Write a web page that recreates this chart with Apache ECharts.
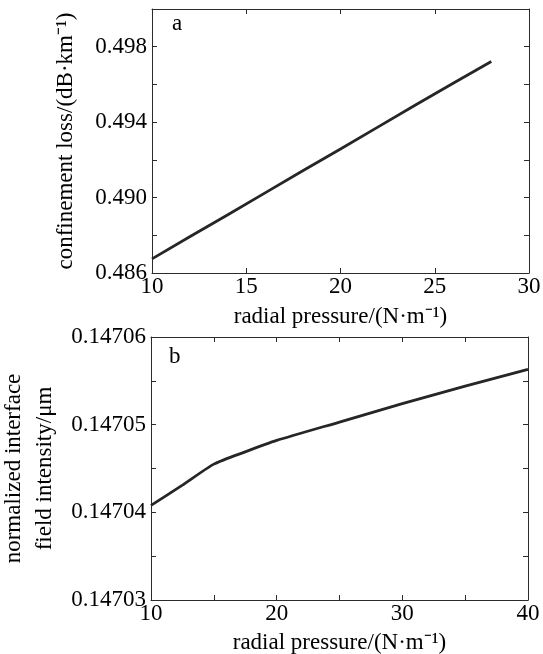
<!DOCTYPE html>
<html>
<head>
<meta charset="utf-8">
<script src="https://cdn.jsdelivr.net/npm/echarts@6/dist/echarts.min.js"></script>
<style>
  html, body { margin: 0; padding: 0; background: #fff; }
  #chart { width: 543px; height: 654px; }
</style>
</head>
<body>
<div id="chart"></div>
<script>
// panel a: confinement loss vs radial pressure
var pressureA = [10, 12, 14, 16, 18, 20, 22, 24, 26, 28];
var lossA = [0.48675, 0.48792, 0.48908, 0.49025, 0.49142, 0.49258, 0.49375, 0.49492, 0.49608, 0.49722];

// panel b: normalized interface field intensity vs radial pressure
var pressureB = [10, 12.5, 15, 17.5, 20, 25, 30, 35, 40];
var intensityB = [0.1470408, 0.1470431, 0.1470455, 0.1470469, 0.1470482, 0.1470503, 0.1470524, 0.1470544, 0.1470563];

var FONT = '"Liberation Serif", "Times New Roman", serif';
var FS = 23;
var INK = '#000';
var FRAME = '#2b2b2b';

function pairs(xs, ys) {
  return xs.map(function(x, i) { return [x, ys[i]]; });
}

function frameAxis(extra) {
  var ax = {
    axisLine: { show: true, lineStyle: { color: FRAME, width: 1 } },
    axisTick: { show: true, inside: true, length: 5, lineStyle: { color: FRAME } },
    splitLine: { show: false },
    axisLabel: { show: false }
  };
  Object.keys(extra).forEach(function(k) { ax[k] = extra[k]; });
  return ax;
}

var labelStyle = { color: INK, fontFamily: FONT, fontSize: FS };
var nameStyle = { color: INK, fontFamily: FONT, fontSize: FS };

var chart = echarts.init(document.getElementById('chart'), null, { renderer: 'canvas' });

chart.setOption({
  backgroundColor: '#fff',
  animation: false,
  grid: [
    { left: 152, top: 9, right: 14, bottom: 381, outerBoundsMode: 'none', containLabel: false },
    { left: 151, top: 337, right: 15, bottom: 54, outerBoundsMode: 'none', containLabel: false }
  ],
  xAxis: [
    frameAxis({
      type: 'value', gridIndex: 0, position: 'bottom', min: 10, max: 30, interval: 5,
      axisLabel: Object.assign({ show: true, margin: 2 }, labelStyle),
      name: 'radial pressure/(N·m⁻¹)', nameLocation: 'middle', nameGap: 32,
      nameTextStyle: nameStyle
    }),
    frameAxis({ type: 'value', gridIndex: 0, position: 'top', min: 10, max: 30, interval: 5 }),
    frameAxis({
      type: 'value', gridIndex: 1, position: 'bottom', min: 10, max: 40, interval: 5,
      axisLabel: Object.assign({
        show: true, margin: 2,
        formatter: function(v) { return v % 10 === 0 ? String(v) : ''; }
      }, labelStyle),
      name: 'radial pressure/(N·m⁻¹)', nameLocation: 'middle', nameGap: 31,
      nameTextStyle: nameStyle
    }),
    frameAxis({ type: 'value', gridIndex: 1, position: 'top', min: 10, max: 40, interval: 5 })
  ],
  yAxis: [
    frameAxis({
      type: 'value', gridIndex: 0, position: 'left', min: 0.486, max: 0.500, interval: 0.002,
      axisLabel: Object.assign({
        show: true, margin: 5,
        formatter: function(v) {
          var k = Math.round(v * 1000);
          return (k - 486) % 4 === 0 && k < 500 ? (k / 1000).toFixed(3) : '';
        }
      }, labelStyle),
      name: 'confinement loss/(dB·km⁻¹)', nameLocation: 'middle', nameGap: 75,
      nameTextStyle: nameStyle
    }),
    frameAxis({ type: 'value', gridIndex: 0, position: 'right', min: 0.486, max: 0.500, interval: 0.002 }),
    frameAxis({
      type: 'value', gridIndex: 1, position: 'left', min: 0.14703, max: 0.14706, interval: 0.000005,
      axisLabel: Object.assign({
        show: true, margin: 5,
        formatter: function(v) {
          var k = Math.round(v * 1e6);
          return k % 10 === 0 ? (k / 1e6).toFixed(5) : '';
        }
      }, labelStyle),
      name: 'normalized interface\nfield intensity/μm', nameLocation: 'middle', nameGap: 89,
      nameTextStyle: Object.assign({ lineHeight: 31 }, nameStyle)
    }),
    frameAxis({ type: 'value', gridIndex: 1, position: 'right', min: 0.14703, max: 0.14706, interval: 0.000005 })
  ],
  graphic: [
    { type: 'text', left: 172, top: 12, style: { text: 'a', fill: INK, font: FS + 'px ' + FONT } },
    { type: 'text', left: 169, top: 345, style: { text: 'b', fill: INK, font: FS + 'px ' + FONT } }
  ],
  series: [
    {
      type: 'line', xAxisIndex: 0, yAxisIndex: 0, data: pairs(pressureA, lossA),
      showSymbol: false, lineStyle: { color: '#262626', width: 2.8 }
    },
    {
      type: 'line', xAxisIndex: 2, yAxisIndex: 2, data: pairs(pressureB, intensityB),
      showSymbol: false, smooth: 0.2, lineStyle: { color: '#262626', width: 2.8 }
    }
  ]
});
</script>
</body>
</html>
